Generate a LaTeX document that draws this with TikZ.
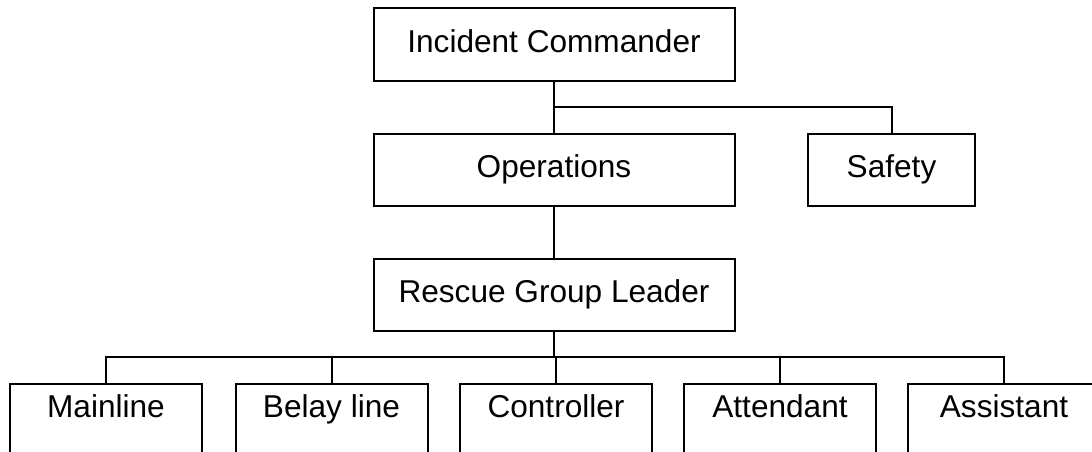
\documentclass[tikz,border=0pt]{standalone}
\usepackage{fontspec}
\setmainfont{Liberation Sans}
\begin{document}
\begin{tikzpicture}[x=1pt,y=-1pt,line width=2pt,
  box/.style={draw,minimum width=361pt,minimum height=72pt,inner sep=0pt,
    text height=23.7pt,text depth=7.9pt,font=\fontsize{31.6}{38}\selectfont},
  leaf/.style={box,minimum width=192pt,minimum height=0pt,anchor=north,
    text height=33pt,text depth=62pt}]
\clip (0,0) rectangle (1092,452);

\node [box] (ic) at (554,44.5) {Incident Commander};
\node [box] (ops) at (554,169.5) {Operations};
\node [box,minimum width=167pt] (safety) at (891.5,170) {Safety};
\node [box] (rgl) at (554,295) {Rescue Group Leader};

\node [leaf] (mainline) at (106,383) {Mainline};
\node [leaf] (belay) at (331.5,383) {Belay line};
\node [leaf] (controller) at (556,383) {Controller};
\node [leaf] (attendant) at (780,383) {Attendant};
\node [leaf] (assistant) at (1004,383) {Assistant};

\coordinate (split) at (554,107);
\coordinate (bus) at (554,357);

\draw (ic) -- (ops);
\draw (split) -| (safety.north);
\draw (ops) -- (rgl);
\draw (rgl) -- (bus);
\foreach \n in {mainline,belay,controller,attendant,assistant}
  \draw (bus) -| (\n.north);
\end{tikzpicture}
\end{document}
